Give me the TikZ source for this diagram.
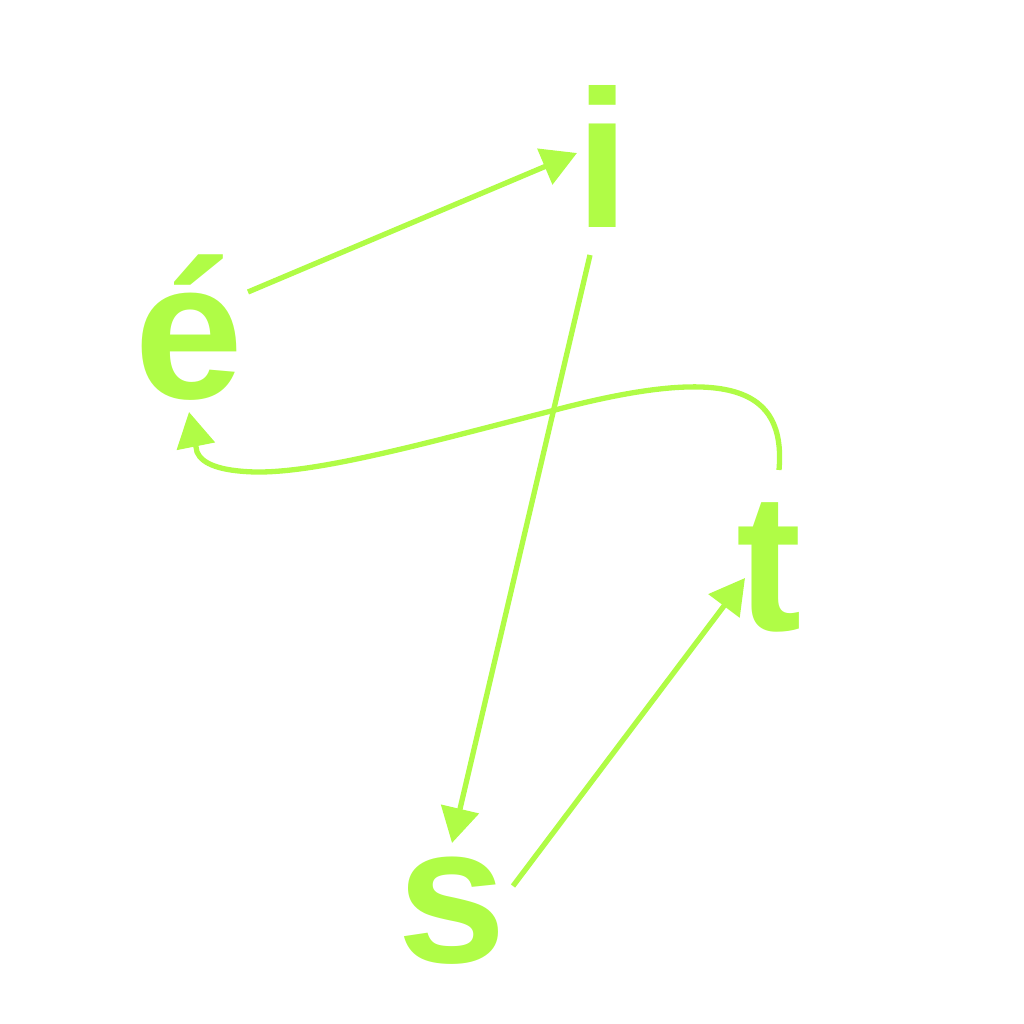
\documentclass[tikz,border=0pt]{standalone}
\usepackage{fontspec}
\setmainfont{Liberation Sans}
\usetikzlibrary{arrows.meta}
\definecolor{lime}{RGB}{176,252,70}
\begin{document}
\begin{tikzpicture}[x=1pt,y=-1pt,
  letter/.style={inner sep=0pt,anchor=base,text=lime,font=\fontsize{196}{230}\selectfont\bfseries},
  conn/.style={draw=lime,line width=5.3pt,-{Triangle[length=35pt,width=38pt]}}]
\useasboundingbox (0,0) rectangle (1024,1024);
\node[letter] (e) at (189,398) {é};
\node[letter] (i) at (603,228) {i};
\node[letter] (t) at (769,630) {t};
\node[letter] (s) at (452,962) {s};
\coordinate (ebend) at (197,452);
\draw[conn] ([xshift=59pt,yshift=106pt]e.base) -- ([xshift=-26pt,yshift=75pt]i.base);
\draw[conn] ([xshift=-13pt,yshift=-27pt]i.base) -- ([xshift=0pt,yshift=119pt]s.base);
\draw[conn] ([xshift=61pt,yshift=76pt]s.base) -- ([xshift=-24pt,yshift=52pt]t.base);
\draw[conn] ([xshift=10pt,yshift=160pt]t.base) .. controls (786,388) and (730,364) .. (555,410)
  .. controls (430,442) and (320,473) .. (255,472)
  .. controls (220,471) and (202,464) .. (ebend) -- ([xshift=0pt,yshift=-14pt]e.base);
\end{tikzpicture}
\end{document}
